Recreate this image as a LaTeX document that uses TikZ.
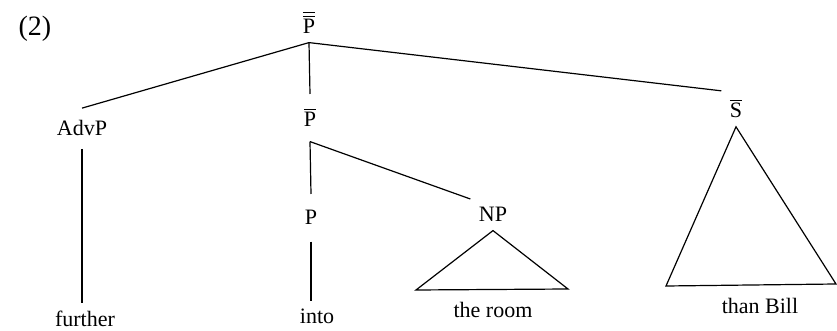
\documentclass[tikz,border=0pt]{standalone}
\usepackage{fontspec}
\setmainfont{Liberation Serif}
\newcommand{\ovl}[1]{$\overline{\mbox{#1}}$}
\newcommand{\dovl}[1]{$\overline{\overline{\mbox{#1}}}$}
\begin{document}
\begin{tikzpicture}[x=0.5pt, y=-0.5pt, line width=0.6pt,
    font=\fontsize{11}{13}\selectfont,
    cat/.style={anchor=base, inner sep=4pt}]
    \useasboundingbox (0,0) rectangle (837,331);
    \node[anchor=base, font=\fontsize{14}{16}\selectfont] (num) at (35,36) {(2)};
    % categories
    \node[cat] (ppp) at (309,34) {\dovl{P}};
    \node[cat, inner ysep=6pt] (advp) at (82,136) {AdvP};
    \node[cat, inner ysep=7pt] (pbar) at (310,127) {\ovl{P}};
    \node[cat] (sbar) at (736,118) {\ovl{S}};
    \node[cat, inner ysep=8pt] (p) at (311,225) {P};
    \node[cat] (np) at (493,222) {NP};
    % words
    \node[cat] (further) at (85,327) {further};
    \node[cat] (into) at (317,324) {into};
    \node[cat] (room) at (493,318) {the room};
    \node[cat] (bill) at (760,314) {than Bill};
    \coordinate (room-l) at (416,290);
    \coordinate (room-r) at (568,289);
    \coordinate (bill-l) at (666,286);
    \coordinate (bill-r) at (836,284);
    % branches
    \draw (ppp.south) -- (advp.north);
    \draw (ppp.south) -- (pbar.north);
    \draw (ppp.south) -- (sbar.north west);
    \draw (advp.south) -- (advp.south |- further.north);
    \draw (pbar.south) -- (p.north);
    \draw (pbar.south) -- (np.north west);
    \draw (p.south) -- (p.south |- into.north);
    \draw (np.south) -- (room-l) -- (room-r) -- cycle;
    \draw (sbar.south) -- (bill-l) -- (bill-r) -- cycle;
\end{tikzpicture}
\end{document}
